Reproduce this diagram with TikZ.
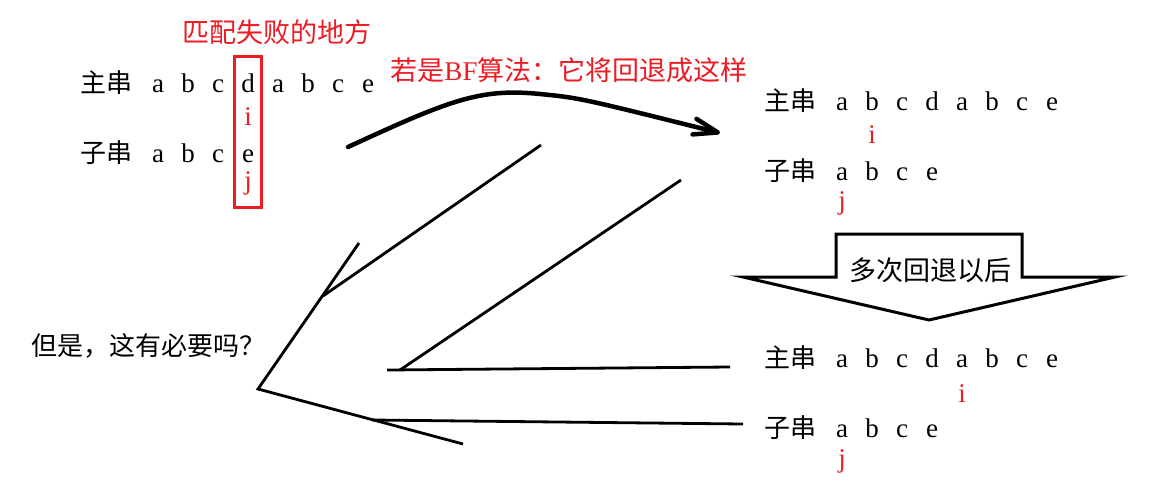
\documentclass[tikz,border=0pt]{standalone}
\usepackage{fontspec}
\setmainfont{Liberation Serif}
\newfontfamily\cjk{Noto Sans CJK SC}
\usetikzlibrary{arrows.meta}
\definecolor{markred}{RGB}{237,28,36}
\tikzset{
    label cn/.style = {
        font=\cjk\fontsize{26}{30}\selectfont,
        anchor=base,
        inner sep=0pt,
        },
    letter/.style = {
        font=\fontsize{27}{30}\selectfont,
        anchor=base,
        inner sep=0pt,
        },
    pointer/.style = {
        letter,
        text=markred,
        },
    note/.style = {
        font=\cjk\fontsize{27}{30}\selectfont,
        text=markred,
        anchor=base,
        inner sep=0pt,
        },
    hand/.style = {
        line width=2.8pt,
        },
    bold hand/.style = {
        line width=4.5pt,
        line cap=round,
        },
}

\begin{document}
\begin{tikzpicture}[x=1pt, y=-1pt]
    \path[fill=white] (0,0) rectangle (1174,495);

    % where matching fails
    \node[note] (failnote) at (277,42) {匹配失败的地方};
    \node[label cn] (mainA) at (106,92) {主串};
    \foreach \ch [count=\k] in {a,b,c,d,a,b,c,e}
        \node[letter] (mainA\k) at ({128+30*\k},92) {\ch};
    \node[label cn] (subA) at (106,162) {子串};
    \foreach \ch [count=\k] in {a,b,c,e}
        \node[letter] (subA\k) at ({128+30*\k},162) {\ch};
    \node[pointer] (iA) at (248,125) {i};
    \node[pointer] (jA) at (248,189) {j};
    \draw[markred, line width=3pt] (234,57) rectangle (261,207);

    % brute force
    \node[note] (bfnote) at (569,80) {若是{\rmfamily BF}算法：它将回退成这样};
    \coordinate (bfstart) at (348,147);
    \coordinate (bftip) at (720,133);
    \draw[bold hand, -{Straight Barb[length=24pt, width=16pt, round]}]
        (bfstart) .. controls (450,100) and (480,88) .. (540,94)
        .. controls (580,98) .. (bftip);

    \node[label cn] (mainB) at (790,110) {主串};
    \foreach \ch [count=\k] in {a,b,c,d,a,b,c,e}
        \node[letter] (mainB\k) at ({812+30*\k},110) {\ch};
    \node[label cn] (subB) at (790,180) {子串};
    \foreach \ch [count=\k] in {a,b,c,e}
        \node[letter] (subB\k) at ({812+30*\k},180) {\ch};
    \node[pointer] (iB) at (872,143) {i};
    \node[pointer] (jB) at (842,209) {j};

    % after many steps back
    \draw[line width=3pt] (743,277) -- (836,277) -- (836,234) -- (1022,234)
        -- (1022,277) -- (1115,277) -- (929,320) -- cycle;
    \node[label cn, font=\cjk\fontsize{27}{30}\selectfont] (stepnote) at (930,280) {多次回退以后};

    \node[label cn] (mainC) at (790,367) {主串};
    \foreach \ch [count=\k] in {a,b,c,d,a,b,c,e}
        \node[letter] (mainC\k) at ({812+30*\k},367) {\ch};
    \node[label cn] (subC) at (790,437) {子串};
    \foreach \ch [count=\k] in {a,b,c,e}
        \node[letter] (subC\k) at ({812+30*\k},437) {\ch};
    \node[pointer] (iC) at (962,402) {i};
    \node[pointer] (jC) at (842,467) {j};

    % question
    \node[label cn] (question) at (148,355) {但是，这有必要吗？};
    \coordinate (backtip) at (258,389);
    \draw[hand] (541,145) -- (323,296);
    \draw[hand] (359,243) -- (backtip) -- (463,444);
    \draw[hand] (681,180) -- (400,370);
    \draw[hand] (387,370) -- (730,367);
    \draw[hand] (372,420) -- (743,424);
\end{tikzpicture}
\end{document}
